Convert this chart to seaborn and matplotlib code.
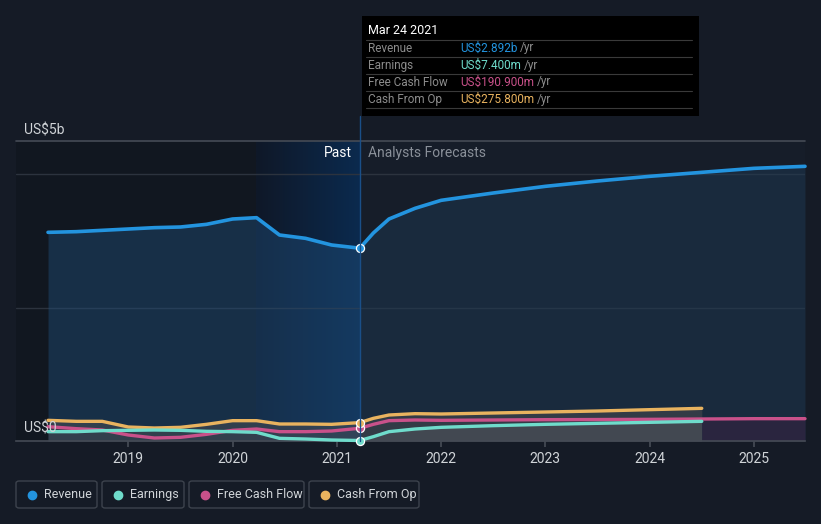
#!/usr/bin/env python3
"""Revenue / earnings / cash flow history and analyst forecasts (dark card style)."""

import matplotlib
matplotlib.use("Agg")
import matplotlib.pyplot as plt
import numpy as np
import pandas as pd
import seaborn as sns
from matplotlib.colors import LinearSegmentedColormap
from matplotlib.patches import FancyBboxPatch, Rectangle
from matplotlib.lines import Line2D

# --- data (US$ billions, x in decimal years) ---
PAST_X = [2018.23, 2018.5, 2018.75, 2019.0, 2019.25, 2019.5, 2019.75,
          2020.0, 2020.23, 2020.45, 2020.7, 2020.95, 2021.22]
REVENUE_PAST = [3.13, 3.14, 3.16, 3.18, 3.20, 3.21, 3.25,
                3.33, 3.35, 3.09, 3.04, 2.94, 2.892]
EARNINGS_PAST = [0.14, 0.14, 0.155, 0.16, 0.165, 0.16, 0.145,
                 0.14, 0.13, 0.04, 0.03, 0.015, 0.0074]
FCF_PAST = [0.215, 0.185, 0.165, 0.09, 0.045, 0.055, 0.10,
            0.16, 0.18, 0.14, 0.14, 0.15, 0.1909]
CFO_PAST = [0.31, 0.295, 0.295, 0.21, 0.195, 0.205, 0.25,
            0.305, 0.305, 0.255, 0.255, 0.25, 0.2758]

FC_X = [2021.22, 2021.35, 2021.5, 2021.75, 2022.0, 2022.5, 2023.0,
        2023.5, 2024.0, 2024.5, 2025.0, 2025.49]
REVENUE_FC = [2.892, 3.12, 3.33, 3.49, 3.61, 3.72, 3.82,
              3.90, 3.97, 4.03, 4.09, 4.12]
FCF_FC = [0.1909, 0.25, 0.305, 0.315, 0.31, 0.315, 0.32,
          0.322, 0.325, 0.33, 0.335, 0.335]
FC_SHORT_X = FC_X[:10]
EARNINGS_FC = [0.0074, 0.065, 0.14, 0.18, 0.205, 0.23, 0.25,
               0.265, 0.28, 0.295]
CFO_FC = [0.2758, 0.34, 0.39, 0.41, 0.405, 0.42, 0.435,
          0.45, 0.47, 0.49]

YEAR_TICKS = [2019, 2020, 2021, 2022, 2023, 2024, 2025]
SERIES = ["Revenue", "Earnings", "Free Cash Flow", "Cash From Op"]
TOOLTIP_VALUES = ["US$2.892b", "US$7.400m", "US$190.900m", "US$275.800m"]

COLORS = {
    "Revenue": "#2394df",
    "Earnings": "#6fdccb",
    "Free Cash Flow": "#c9518a",
    "Cash From Op": "#e9b35f",
}
BG = "#151b26"
TEXT = "#d0d4d8"
PAST_END = 2021.22
HIGHLIGHT_START = 2020.22

W, H = 821, 524


def px_x(x):
    return x / W


def px_y(y):
    return 1 - y / H


def main():
    sns.set_theme(style="dark")
    plt.rcParams["font.family"] = ["Roboto", "DejaVu Sans"]

    fig = plt.figure(figsize=(8.21, 5.24), dpi=100, facecolor=BG)
    left, right, top, bottom = 16, 805, 141, 441
    ax = fig.add_axes([px_x(left), px_y(bottom), (right - left) / W, (bottom - top) / H])
    ax.set_facecolor("#161d29")
    xmin, xmax = 2018.23 - 32 / 104.2, 2025.49
    ax.set_xlim(xmin, xmax)
    ax.set_ylim(0, 4.5)

    # background bands: darker past, blue gradient for the last year
    ax.axvspan(xmin, HIGHLIGHT_START, color="#0d1117", alpha=0.45, lw=0, zorder=0)
    band_cmap = LinearSegmentedColormap.from_list("band", ["#0f1828", "#0b2a4e"])
    ax.imshow(np.linspace(0, 1, 64).reshape(1, -1), cmap=band_cmap, aspect="auto",
              extent=[HIGHLIGHT_START, PAST_END, 0, 4.5], zorder=0, interpolation="bilinear")
    ax.set_xlim(xmin, xmax)
    ax.set_ylim(0, 4.5)
    for g in [2.0, 4.0]:
        ax.axhline(g, color="#2c333e", lw=1, zorder=1)
    ax.axhline(4.5, color="#454b55", lw=1.2, zorder=1, clip_on=False)

    # area fills
    ax.fill_between(PAST_X, REVENUE_PAST, color="#1f4d78", alpha=0.45, lw=0, zorder=1)
    ax.fill_between(FC_X, REVENUE_FC, color="#1e3a56", alpha=0.45, lw=0, zorder=1)
    ax.fill_between(PAST_X, CFO_PAST, color="#4a4d52", alpha=0.55, lw=0, zorder=2)
    ax.fill_between(FC_SHORT_X, CFO_FC, color="#45484d", alpha=0.6, lw=0, zorder=2)
    ax.fill_between(FC_SHORT_X, EARNINGS_FC, color="#5a5c62", alpha=0.4, lw=0, zorder=2)
    ax.fill_between(FC_X[9:], FCF_FC[9:], color="#2c2540", alpha=0.9, lw=0, zorder=2)

    # lines
    rows = []
    for name, xs, ys in [
        ("Revenue", PAST_X, REVENUE_PAST), ("Revenue", FC_X, REVENUE_FC),
        ("Earnings", PAST_X, EARNINGS_PAST), ("Earnings", FC_SHORT_X, EARNINGS_FC),
        ("Free Cash Flow", PAST_X, FCF_PAST), ("Free Cash Flow", FC_X, FCF_FC),
        ("Cash From Op", PAST_X, CFO_PAST), ("Cash From Op", FC_SHORT_X, CFO_FC),
    ]:
        rows.extend({"x": x, "y": y, "series": name} for x, y in zip(xs, ys))
    df = pd.DataFrame(rows)
    for name in ["Cash From Op", "Free Cash Flow", "Earnings", "Revenue"]:
        sub = df[df["series"] == name]
        lw = 2.6 if name == "Revenue" else 2.4
        sns.lineplot(data=sub, x="x", y="y", color=COLORS[name], lw=lw,
                     estimator=None, sort=True, ax=ax, zorder=4, clip_on=False)

    # markers at the current point
    for name, val in zip(SERIES, [REVENUE_PAST[-1], EARNINGS_PAST[-1], FCF_PAST[-1], CFO_PAST[-1]]):
        ax.scatter([PAST_END], [val], s=34, color=COLORS[name], edgecolor="white",
                   linewidth=0.9, zorder=6, clip_on=False)

    # vertical divider up to the tooltip
    fig.add_artist(Line2D([px_x(360), px_x(360)], [px_y(441), px_y(116)],
                          color="#1a4f88", lw=1, zorder=3))

    # axes styling
    ax.set_xlabel("")
    ax.set_ylabel("")
    ax.set_yticks([])
    ax.set_xticks(YEAR_TICKS)
    ax.set_xticklabels([str(y) for y in YEAR_TICKS], color=TEXT, fontsize=10)
    ax.tick_params(axis="x", length=4, color="#454b55", pad=4, bottom=True)
    for side in ["top", "right", "left"]:
        ax.spines[side].set_visible(False)
    ax.spines["bottom"].set_color("#454b55")
    ax.spines["bottom"].set_linewidth(1.2)
    ax.grid(False)

    fig.text(px_x(24), px_y(130), "US$5b", color=TEXT, fontsize=10, va="center")
    fig.text(px_x(24), px_y(429), "US$0", color=TEXT, fontsize=10, va="center")
    fig.text(px_x(352), px_y(153), "Past", color="#ffffff", fontsize=10, ha="right", va="center")
    fig.text(px_x(368), px_y(153), "Analysts Forecasts", color="#8a9099", fontsize=10, va="center")

    # tooltip box
    fig.add_artist(Rectangle((px_x(362), px_y(116)), (699 - 362) / W, 100 / H,
                             facecolor="#000000", edgecolor="none", zorder=10))
    fig.text(px_x(368), px_y(31), "Mar 24 2021", color="#ffffff", fontsize=9,
             va="center", zorder=11)
    for i, (name, val) in enumerate(zip(SERIES, TOOLTIP_VALUES)):
        yline = 40 + 17 * i
        fig.add_artist(Line2D([px_x(366), px_x(692)], [px_y(yline), px_y(yline)],
                              color="#3a3a3a", lw=0.8, zorder=11))
        yc = 48 + 17 * i
        fig.text(px_x(368), px_y(yc), name, color="#8c8c8c", fontsize=8.5, va="center", zorder=11)
        t = fig.text(px_x(460), px_y(yc), val, color=COLORS[name], fontsize=8.5,
                     va="center", zorder=11)
        fig.canvas.draw()
        bb = t.get_window_extent()
        fig.text(bb.x1 / W + 3 / W, px_y(yc), "/yr", color="#8c8c8c", fontsize=8.5,
                 va="center", zorder=11)
    fig.add_artist(Line2D([px_x(366), px_x(692)], [px_y(108), px_y(108)],
                          color="#3a3a3a", lw=0.8, zorder=11))

    # legend boxes
    boxes = [(16, 97), (102, 184), (189, 304), (309, 419)]
    for (x0, x1), name in zip(boxes, SERIES):
        fig.add_artist(FancyBboxPatch((px_x(x0), px_y(508)), (x1 - x0) / W, 27 / H,
                                      boxstyle="round,pad=0,rounding_size=0.004",
                                      facecolor="none", edgecolor="#3d434d", lw=1))
        fig.add_artist(Line2D([px_x(x0 + 16)], [px_y(494.5)], marker="o", markersize=6,
                              color=COLORS[name], lw=0))
        fig.text(px_x(x0 + 28), px_y(494.5), name, color=TEXT, fontsize=9, va="center")

    fig.savefig("out.png", dpi=100, facecolor=BG)


if __name__ == "__main__":
    main()
